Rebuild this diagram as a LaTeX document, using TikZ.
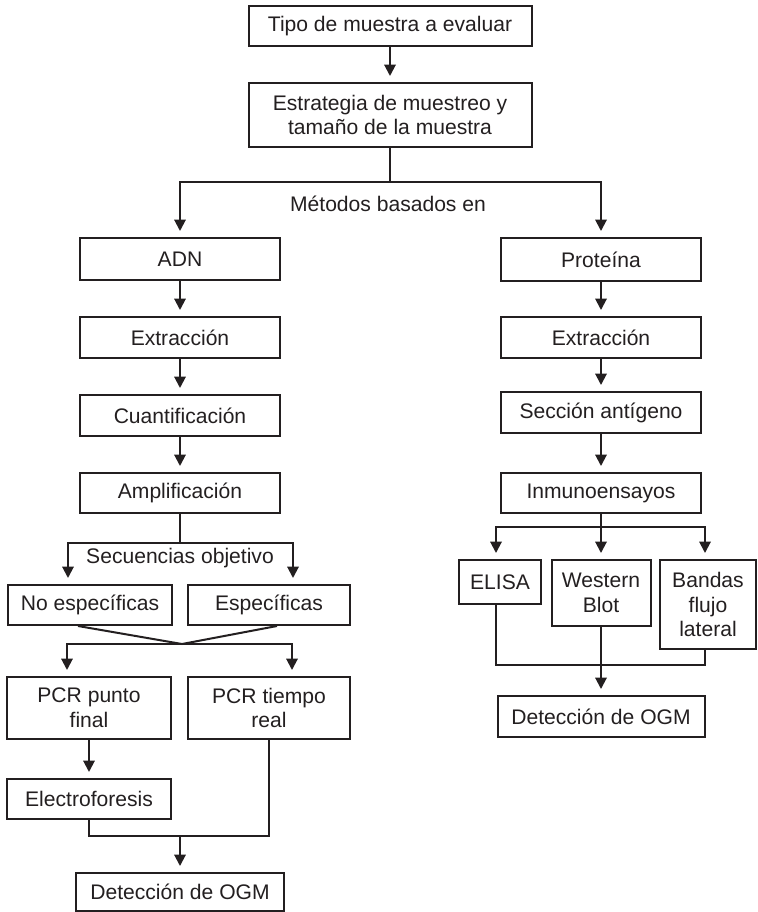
\documentclass[tikz,border=0pt]{standalone}
\usepackage{fontspec}
\setmainfont{Liberation Sans}
\usetikzlibrary{arrows.meta}
\definecolor{tinta}{HTML}{231F20}

\begin{document}
\begin{tikzpicture}[x=0.2mm, y=-0.2mm,
    caja/.style={draw=tinta, line width=0.4mm, text=tinta, inner sep=0pt,
                 align=center, font=\fontsize{12}{14}\selectfont},
    flecha/.style={draw=tinta, line width=0.4mm,
                   -{Triangle[width=6.5pt,length=6.5pt]}, shorten >=1.2mm},
    linea/.style={draw=tinta, line width=0.4mm},
    rotulo/.style={text=tinta, font=\fontsize{12}{14}\selectfont}]
  \useasboundingbox (0,0) rectangle (757,912);
  % Top of the chart
  \node[caja, minimum width=56.6mm, minimum height=8mm] (tipo) at (390,26)
      {Tipo de muestra a evaluar};
  \node[caja, minimum width=56.6mm, minimum height=12.8mm] (estrat) at (390,115)
      {Estrategia de muestreo y\\tama\~no de la muestra};
  \draw[flecha] (tipo) -- (estrat);
  % Split into the two methods
  \coordinate (split1) at (390,182);
  \node[rotulo] (metodos) at (388,204) {Métodos basados en};
  % DNA column
  \node[caja, minimum width=40mm, minimum height=8.4mm] (adn) at (180,259) {ADN};
  \node[caja, minimum width=40mm, minimum height=8.2mm] (extr1) at (180,337.5) {Extracción};
  \node[caja, minimum width=40mm, minimum height=8.2mm] (cuant) at (180,415.5) {Cuantificación};
  \node[caja, minimum width=40mm, minimum height=8mm] (ampl) at (180,493) {Amplificación};
  \node[rotulo] (secuencias) at (180,558) {Secuencias objetivo};
  \node[caja, minimum width=32.6mm, minimum height=8mm] (noesp) at (90,605) {No específicas};
  \node[caja, minimum width=32.4mm, minimum height=8mm] (esp) at (269,605) {Específicas};
  \node[caja, minimum width=32.6mm, minimum height=12.4mm] (pcrpf) at (89,708)
      {PCR punto\\final};
  \node[caja, minimum width=32.4mm, minimum height=12.4mm] (pcrtr) at (269,708)
      {PCR tiempo\\real};
  \node[caja, minimum width=32.6mm, minimum height=8mm] (electro) at (89,799) {Electroforesis};
  \node[caja, minimum width=41.4mm, minimum height=7.6mm] (detA) at (180,892)
      {Detección de OGM};
  % Protein column
  \node[caja, minimum width=40mm, minimum height=8.6mm] (prot) at (601,259.5) {Proteína};
  \node[caja, minimum width=40mm, minimum height=8.2mm] (extr2) at (601,337.5) {Extracción};
  \node[caja, minimum width=40mm, minimum height=8.2mm] (seccion) at (601,412.5) {Sección antígeno};
  \node[caja, minimum width=40mm, minimum height=8mm] (inmuno) at (601,493) {Inmunoensayos};
  \node[caja, minimum width=16.4mm, minimum height=8.8mm] (elisa) at (500,582) {ELISA};
  \node[caja, minimum width=19.8mm, minimum height=13.2mm] (western) at (601,593)
      {Western\\Blot};
  \node[caja, minimum width=19.2mm, minimum height=17.8mm] (bandas) at (708,604.5)
      {Bandas\\flujo\\lateral};
  \node[caja, minimum width=41.4mm, minimum height=8.2mm] (detB) at (601,716.5)
      {Detección de OGM};
  % Branches from the sampling strategy
  \draw[linea] (estrat.south) -- (split1);
  \draw[flecha] (split1) -| (adn.north);
  \draw[flecha] (split1) -| (prot.north);
  % Straight steps down each column
  \foreach \a/\b in {adn/extr1, extr1/cuant, cuant/ampl, prot/extr2, extr2/seccion,
                     seccion/inmuno, pcrpf/electro, western/detB}
      \draw[flecha] (\a) -- (\b);
  % Target sequences
  \coordinate (split2) at (180,543);
  \draw[linea] (ampl.south) -- (split2);
  \draw[flecha] (split2) -| ([xshift=-4.4mm]noesp.north);
  \draw[flecha] (split2) -| ([xshift=4.8mm]esp.north);
  % Both sequences lead to both PCR types
  \coordinate (union) at (182,644);
  \draw[linea] ([xshift=-2.4mm]noesp.south) -- (union) -- ([xshift=1.6mm]esp.south);
  \draw[flecha] (union) -| ([xshift=-4.4mm]pcrpf.north);
  \draw[flecha] (union) -| ([xshift=4.6mm]pcrtr.north);
  % Joining into the DNA detection
  \coordinate (junta1) at (180,836);
  \draw[linea] (electro.south) |- (junta1) -| (pcrtr.south);
  \draw[flecha] (junta1) -- (detA.north);
  % Immunoassay types
  \coordinate (split3) at (601,527);
  \draw[linea] (inmuno.south) -- (split3);
  \draw[flecha] (split3) -| ([xshift=-0.8mm]elisa.north);
  \draw[flecha] (split3) -- (western.north);
  \draw[flecha] (split3) -| ([xshift=-0.6mm]bandas.north);
  \coordinate (junta2) at (601,665);
  \draw[linea] ([xshift=-0.8mm]elisa.south) |- (junta2) -| ([xshift=-0.6mm]bandas.south);
\end{tikzpicture}
\end{document}
